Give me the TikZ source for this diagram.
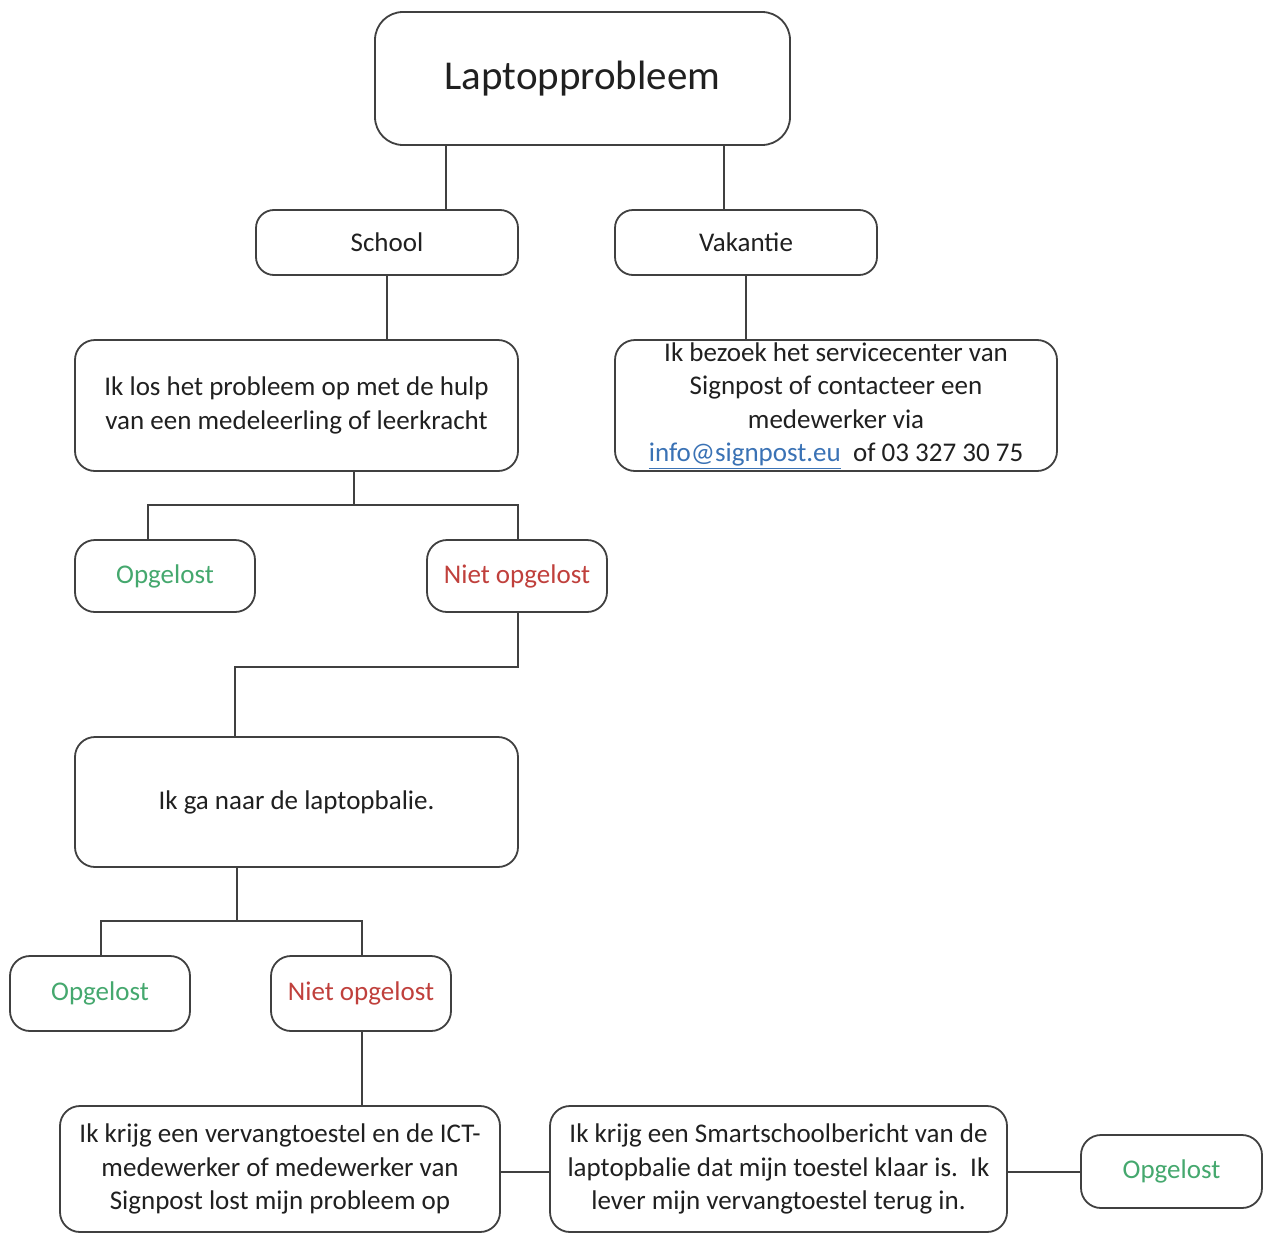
\documentclass[tikz,border=0pt]{standalone}
\usepackage{fontspec}
\setmainfont{Carlito}
\definecolor{linec}{HTML}{404040}
\definecolor{textc}{HTML}{202020}
\definecolor{okc}{HTML}{45A86E}
\definecolor{noc}{HTML}{C0403C}
\definecolor{linkc}{HTML}{3A72B5}
\begin{document}
\begin{tikzpicture}[x=1pt,y=-1pt,
  box/.style={draw=linec, line width=1.8pt, rounded corners=20pt, inner sep=0pt,
    align=center, text=textc, font=\fontsize{27}{33.5}\selectfont},
  conn/.style={draw=linec, line width=1.8pt}]
\useasboundingbox (0,0) rectangle (1263,1234);
\fill[white] (0,0) rectangle (1263,1234);

\node[box, minimum width=415pt, minimum height=133pt, rounded corners=28pt,
  font=\fontsize{41}{48}\selectfont] (top) at (582.5,78.5) {Laptopprobleem};
\node[box, minimum width=262pt, minimum height=65pt, rounded corners=18pt] (school) at (387,242.5) {School};
\node[box, minimum width=262pt, minimum height=65pt, rounded corners=18pt] (vak) at (746,242.5) {Vakantie};
\node[box, minimum width=443pt, minimum height=131pt] (los) at (296.5,405.5)
  {Ik los het probleem op met de hulp\\van een medeleerling of leerkracht};
\node[box, minimum width=442pt, minimum height=131pt] (info) at (836,405.5)
  {Ik bezoek het servicecenter van\\Signpost of contacteer een\\medewerker via\\
   \textcolor{linkc}{\underline{info@signpost.eu}}\ \ of 03 327 30 75};
\node[box, minimum width=180pt, minimum height=72pt, text=okc] (ok1) at (165,576) {Opgelost};
\node[box, minimum width=180pt, minimum height=72pt, text=noc] (no1) at (517,576) {Niet opgelost};
\node[box, minimum width=443pt, minimum height=130pt] (balie) at (296.5,802) {Ik ga naar de laptopbalie.};
\node[box, minimum width=180pt, minimum height=75pt, text=okc] (ok2) at (100,993.5) {Opgelost};
\node[box, minimum width=180pt, minimum height=75pt, text=noc] (no2) at (361,993.5) {Niet opgelost};
\node[box, minimum width=440pt, minimum height=126pt] (ict) at (280,1169)
  {Ik krijg een vervangtoestel en de ICT-\\medewerker of medewerker van\\Signpost lost mijn probleem op};
\node[box, minimum width=457pt, minimum height=126pt] (smart) at (778.5,1169)
  {Ik krijg een Smartschoolbericht van de\\laptopbalie dat mijn toestel klaar is.\ \ Ik\\lever mijn vervangtoestel terug in.};
\node[box, minimum width=181pt, minimum height=73pt, text=okc] (ok3) at (1171.5,1171.5) {Opgelost};

\draw[conn] (446,0 |- top.south) -- (446,0 |- school.north);
\draw[conn] (724,0 |- top.south) -- (724,0 |- vak.north);
\draw[conn] (school.south) -- (school.south |- los.north);
\draw[conn] (vak.south) -- (vak.south |- info.north);
\coordinate (j1) at (354,505);
\draw[conn] (354,0 |- los.south) -- (j1) -| (148,0 |- ok1.north);
\draw[conn] (j1) -| (518,0 |- no1.north);
\coordinate (j2) at (235,667);
\draw[conn] (518,0 |- no1.south) |- (j2) -- (235,0 |- balie.north);
\coordinate (j3) at (237,921);
\draw[conn] (237,0 |- balie.south) -- (j3) -| (101,0 |- ok2.north);
\draw[conn] (j3) -| (362,0 |- no2.north);
\draw[conn] (362,0 |- no2.south) -- (362,0 |- ict.north);
\draw[conn] (ict.east |- 0,1172) -- (smart.west |- 0,1172);
\draw[conn] (smart.east |- 0,1172) -- (ok3.west |- 0,1172);
\end{tikzpicture}
\end{document}
